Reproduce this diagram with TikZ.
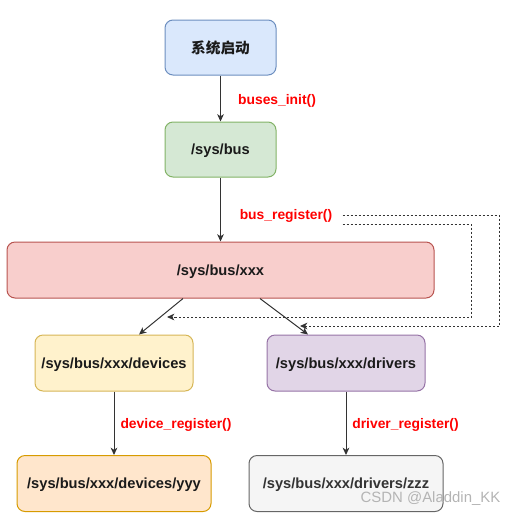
\documentclass[tikz,border=0pt]{standalone}
\usepackage{fontspec}
\setmainfont{Liberation Sans}
\newfontfamily\cjk{Noto Sans CJK SC}
\usetikzlibrary{arrows.meta,calc}
\definecolor{bluef}{HTML}{DAE8FC}\definecolor{blued}{HTML}{6C8EBF}
\definecolor{greenf}{HTML}{D5E8D4}\definecolor{greend}{HTML}{82B366}
\definecolor{redf}{HTML}{F8CECC}\definecolor{redd}{HTML}{B85450}
\definecolor{yelf}{HTML}{FFF2CC}\definecolor{yeld}{HTML}{D6B656}
\definecolor{purf}{HTML}{E1D5E7}\definecolor{purd}{HTML}{9673A6}
\definecolor{oraf}{HTML}{FFE6CC}\definecolor{orad}{HTML}{D79B00}
\definecolor{grayf}{HTML}{F5F5F5}\definecolor{grayd}{HTML}{666666}
\definecolor{txt}{HTML}{1A1A1A}\definecolor{txtg}{HTML}{333333}
\definecolor{lblred}{HTML}{FF0000}\definecolor{wm}{HTML}{B4B4B4}
\definecolor{linec}{HTML}{333333}
\begin{document}
\begin{tikzpicture}[x=0.75pt,y=-0.75pt,
  box/.style={draw, rounded corners=6pt, line width=0.75pt, inner sep=0pt,
    minimum height=42pt, text depth=0pt, font=\bfseries\fontsize{11}{13}\selectfont, text=txt},
  lbl/.style={inner sep=0pt, text=lblred, font=\bfseries\fontsize{10.4}{12}\selectfont},
  arr/.style={draw=linec, line width=0.75pt, -{Stealth[length=5.5pt,width=5pt,inset=1.6pt]}},
  darr/.style={arr, dash pattern=on 1.5pt off 1.5pt}]
\useasboundingbox (0,0) rectangle (517,515);
\node[box, fill=bluef, draw=blued, minimum width=83.25pt, minimum height=41.25pt] (b1) at (220.5,47.5) {\cjk\bfseries 系统启动};
\node[box, fill=greenf, draw=greend, minimum width=83.25pt, minimum height=41.25pt] (b2) at (220.5,149.5) {/sys/bus};
\node[box, fill=redf, draw=redd, minimum width=320.25pt] (b3) at (220.5,270) {/sys/bus/xxx};
\node[box, fill=yelf, draw=yeld, minimum width=118.5pt] (b4) at (114,363) {/sys/bus/xxx/devices};
\node[box, fill=purf, draw=purd, minimum width=118.5pt] (b5) at (346,363) {/sys/bus/xxx/drivers};
\node[box, fill=oraf, draw=orad, minimum width=145.5pt] (b6) at (114,483.5) {/sys/bus/xxx/devices/yyy};
\node[box, fill=grayf, draw=grayd, text=txtg, minimum width=145.5pt] (b7) at (346,483.5) {/sys/bus/xxx/drivers/zzz};

\node[lbl] (l1) at (277,101) {buses\_init()};
\node[lbl] (l2) at (286,216) {bus\_register()};
\node[lbl] (l3) at (176,424.5) {device\_register()};
\node[lbl] (l4) at (405.5,424.5) {driver\_register()};

\draw[arr] (b1) -- (b2);
\draw[arr] (b2) -- (b3);
\draw[arr] ($(b3.south)+(-37.5,0)$) -- ($(b4.north)+(25,0)$);
\draw[arr] ($(b3.south)+(39.5,0)$) -- ($(b5.north)+(-38,0)$);
\draw[arr] (b4) -- (b6);
\draw[arr] (b5) -- (b7);

\coordinate (d1) at ($(l2.east)+(10,-1)$);
\coordinate (d2) at ($(l2.east)+(10,8)$);
\coordinate (e1) at (300,326);
\coordinate (e2) at (167,317);
\draw[darr] (d1) -- (499,215) -- (499,326) -- (e1);
\draw[darr] (d2) -- (471,224) -- (471,317) -- (e2);

\node[inner sep=0pt, text=wm, font=\fontsize{11.2}{13}\selectfont] (wm) at (430.5,498.5) {CSDN @Aladdin\_KK};
\end{tikzpicture}
\end{document}
